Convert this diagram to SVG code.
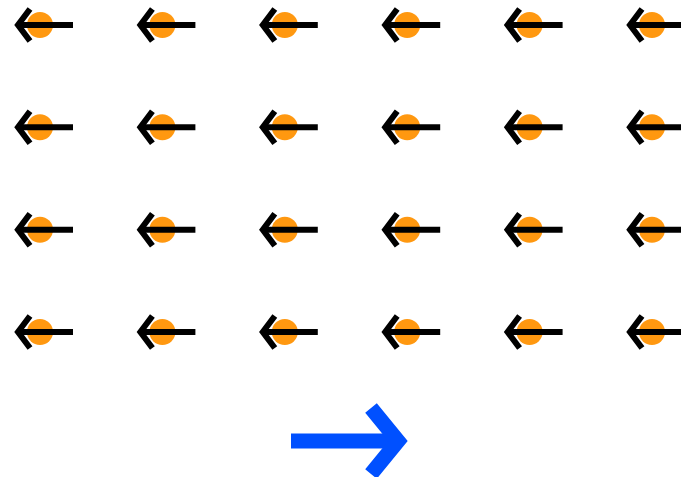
<svg xmlns="http://www.w3.org/2000/svg" xmlns:xlink="http://www.w3.org/1999/xlink" width="681" height="477" viewBox="0 0 681 477">
<style>
.dot{fill:#ff9810;}
.shaft{stroke:#000;stroke-width:6;fill:none;}
.head{stroke:#000;stroke-width:6;fill:none;stroke-linejoin:miter;stroke-miterlimit:10;}
.key{stroke:#0050ff;stroke-width:15;fill:none;stroke-linejoin:miter;stroke-miterlimit:10;}
</style>
<defs>
<g id="q">
<circle class="dot" cx="0" cy="0" r="13"/>
<line class="shaft" x1="-22" y1="0" x2="33" y2="0"/>
<polyline class="head" points="-10,-16 -22,0 -10,16"/>
</g>
</defs>
<rect width="681" height="477" fill="#fff"/>
<g id="r0c0"><use xlink:href="#q" x="40" y="25"/></g>
<g id="r0c1"><use xlink:href="#q" x="162.4" y="25"/></g>
<g id="r0c2"><use xlink:href="#q" x="284.8" y="25"/></g>
<g id="r0c3"><use xlink:href="#q" x="407.2" y="25"/></g>
<g id="r0c4"><use xlink:href="#q" x="529.6" y="25"/></g>
<g id="r0c5"><use xlink:href="#q" x="652" y="25"/></g>
<g id="r1c0"><use xlink:href="#q" x="40" y="127.3"/></g>
<g id="r1c1"><use xlink:href="#q" x="162.4" y="127.3"/></g>
<g id="r1c2"><use xlink:href="#q" x="284.8" y="127.3"/></g>
<g id="r1c3"><use xlink:href="#q" x="407.2" y="127.3"/></g>
<g id="r1c4"><use xlink:href="#q" x="529.6" y="127.3"/></g>
<g id="r1c5"><use xlink:href="#q" x="652" y="127.3"/></g>
<g id="r2c0"><use xlink:href="#q" x="40" y="229.7"/></g>
<g id="r2c1"><use xlink:href="#q" x="162.4" y="229.7"/></g>
<g id="r2c2"><use xlink:href="#q" x="284.8" y="229.7"/></g>
<g id="r2c3"><use xlink:href="#q" x="407.2" y="229.7"/></g>
<g id="r2c4"><use xlink:href="#q" x="529.6" y="229.7"/></g>
<g id="r2c5"><use xlink:href="#q" x="652" y="229.7"/></g>
<g id="r3c0"><use xlink:href="#q" x="40" y="332"/></g>
<g id="r3c1"><use xlink:href="#q" x="162.4" y="332"/></g>
<g id="r3c2"><use xlink:href="#q" x="284.8" y="332"/></g>
<g id="r3c3"><use xlink:href="#q" x="407.2" y="332"/></g>
<g id="r3c4"><use xlink:href="#q" x="529.6" y="332"/></g>
<g id="r3c5"><use xlink:href="#q" x="652" y="332"/></g>
<g id="key">
<line class="key" x1="291" y1="441" x2="400" y2="441"/>
<polyline class="key" points="371,408 398,441 371,474"/>
</g>
</svg>
